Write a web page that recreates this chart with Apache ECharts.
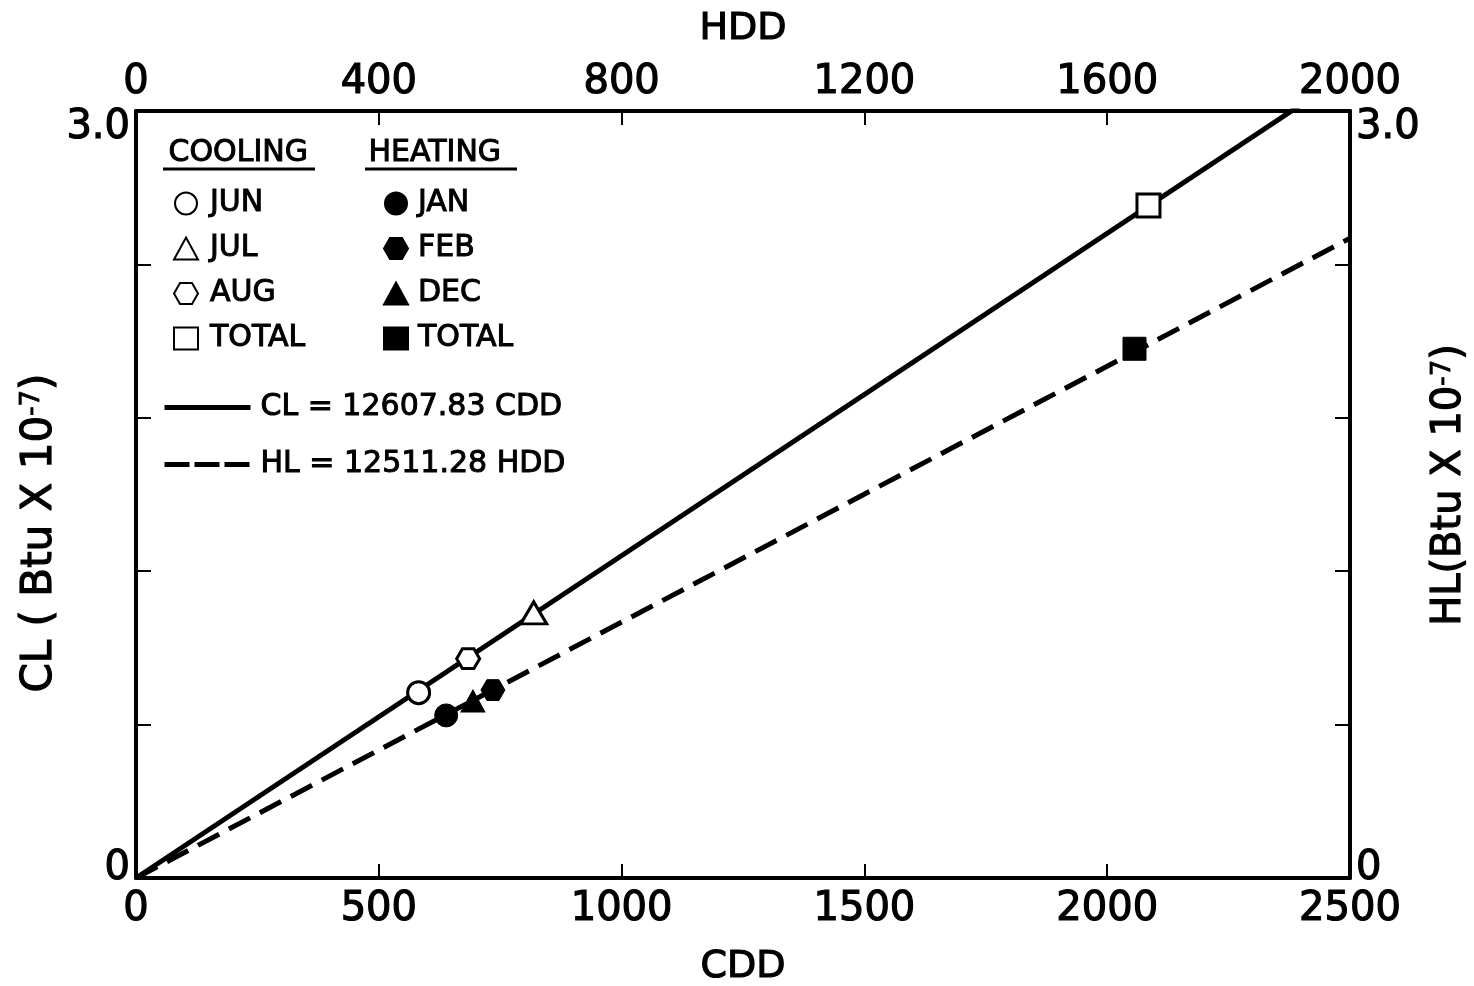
<!DOCTYPE html>
<html>
<head>
<meta charset="utf-8">
<script src="https://cdn.jsdelivr.net/npm/echarts@6/dist/echarts.min.js"></script>
<style>
  html, body { margin: 0; padding: 0; background: #fff; }
  #chart { width: 1474px; height: 986px; }
</style>
</head>
<body>
<div id="chart"></div>
<script>
// Monthly and seasonal totals: cooling load vs CDD, heating load vs HDD
const coolingMonths = ['JUN', 'JUL', 'AUG', 'TOTAL'];
const coolingCDD = [582, 819, 684, 2085];
const coolingCL = [0.725, 1.037, 0.858, 2.63];

const heatingMonths = ['JAN', 'FEB', 'DEC', 'TOTAL'];
const heatingHDD = [511, 588, 555, 1645];
const heatingHL = [0.636, 0.735, 0.692, 2.07];

// Fitted lines through the origin (load in Btu x 10^-7)
const clCoef = 12607.83;
const hlCoef = 12511.28;

// Axis ticks
const cddTicks = [0, 500, 1000, 1500, 2000, 2500];
const hddTicks = [0, 400, 800, 1200, 1600, 2000];
const loadTicks = [0, 0.6, 1.2, 1.8, 2.4, 3.0];
const loadTickLabels = ['0', '3.0'];

const FONT = 'DejaVu Sans';
const INK = '#000';
const HEX = 'path://M-1,0 L-0.5,-0.866 L0.5,-0.866 L1,0 L0.5,0.866 L-0.5,0.866 Z';

const coolingSymbols = ['circle', 'triangle', HEX, 'rect'];
const coolingSizes = [22, [26, 22], 23, 23];
const heatingSymbols = ['circle', HEX, 'triangle', 'rect'];
const heatingSizes = [23, 24, [24, 22], 23];

const last = a => a[a.length - 1];
const step = a => a[1] - a[0];

const tickFont = { color: INK, fontFamily: FONT, fontSize: 40, textBorderColor: INK, textBorderWidth: 1.2 };

function loadLabel(v) {
  if (Math.abs(v - loadTicks[0]) < 1e-9) return '{b|' + loadTickLabels[0] + '}';
  if (Math.abs(v - last(loadTicks)) < 1e-9) return '{t|' + loadTickLabels[1] + '}';
  return '';
}
const loadRich = {
  t: Object.assign({ padding: [34, 0, 0, 0] }, tickFont),
  b: Object.assign({ padding: [0, 0, 18, 0] }, tickFont)
};

function xAxisCfg(ticks, pos, name, gap) {
  return {
    type: 'value', position: pos, min: ticks[0], max: last(ticks), interval: step(ticks),
    name: name, nameLocation: 'middle', nameGap: gap, nameMoveOverlap: false,
    nameTextStyle: { color: INK, fontFamily: FONT, fontSize: 38, textBorderColor: INK, textBorderWidth: 1.2 },
    axisLine: { show: true, onZero: false, lineStyle: { color: INK, width: 4 } },
    axisTick: { show: true, inside: true, length: 14, lineStyle: { color: INK, width: 2 } },
    axisLabel: Object.assign({ margin: pos === 'top' ? 8 : 12, formatter: v => String(v) }, tickFont),
    splitLine: { show: false }
  };
}
function yAxisCfg(pos) {
  return {
    type: 'value', position: pos, min: loadTicks[0], max: last(loadTicks), interval: step(loadTicks),
    axisLine: { show: true, onZero: false, lineStyle: { color: INK, width: 4 } },
    axisTick: { show: true, inside: true, length: 15, lineStyle: { color: INK, width: 2 } },
    axisLabel: { margin: 6, formatter: loadLabel, rich: loadRich },
    splitLine: { show: false }
  };
}

const series = [];
coolingMonths.forEach((m, i) => {
  series.push({
    type: 'scatter', name: 'Cooling ' + m, xAxisIndex: 0, yAxisIndex: 0, z: 5,
    data: [[coolingCDD[i], coolingCL[i]]],
    symbol: coolingSymbols[i], symbolSize: coolingSizes[i], symbolKeepAspect: true,
    itemStyle: { color: '#fff', borderColor: INK, borderWidth: 3, opacity: 1 }
  });
});
heatingMonths.forEach((m, i) => {
  series.push({
    type: 'scatter', name: 'Heating ' + m, xAxisIndex: 1, yAxisIndex: 0, z: 5,
    data: [[heatingHDD[i], heatingHL[i]]],
    symbol: heatingSymbols[i], symbolSize: heatingSizes[i], symbolKeepAspect: true,
    itemStyle: { color: INK, borderColor: INK, borderWidth: 1, opacity: 1 }
  });
});
const clName = 'CL = ' + clCoef + ' CDD';
const hlName = 'HL = ' + hlCoef + ' HDD';
const solidStyle = { color: INK, width: 5 };
const dashStyle = { color: INK, width: 5, type: [24, 11] };
series.push({
  type: 'line', name: clName, xAxisIndex: 0, yAxisIndex: 0, z: 2, clip: true,
  symbol: 'none', showSymbol: false, silent: true, itemStyle: { color: INK },
  data: [[0, 0], [last(cddTicks), clCoef * last(cddTicks) / 1e7]],
  lineStyle: solidStyle
});
series.push({
  type: 'line', name: hlName, xAxisIndex: 1, yAxisIndex: 0, z: 2, clip: true,
  symbol: 'none', showSymbol: false, silent: true, itemStyle: { color: INK },
  data: [[0, 0], [last(hddTicks), hlCoef * last(hddTicks) / 1e7]],
  lineStyle: dashStyle
});

const legendText = { color: INK, fontFamily: FONT, fontSize: 30, lineHeight: 30, textBorderColor: INK, textBorderWidth: 1 };
const monthLegend = (names, left, pad) => ({
  orient: 'vertical', left: left, top: 188, padding: 0, itemWidth: 24, itemHeight: 22, itemGap: 14,
  selectedMode: false, data: names,
  formatter: n => n.split(' ').pop(),
  textStyle: Object.assign({ padding: [0, 0, 0, pad] }, legendText)
});

const titleRich = (size) => ({
  a: { fontFamily: FONT, fontSize: size, fill: INK, stroke: INK, lineWidth: 1.2 },
  s: { fontFamily: FONT, fontSize: 26, fill: INK, stroke: INK, lineWidth: 0.8, verticalAlign: 'top' }
});
const headStyle = { fontFamily: FONT, fontSize: 30, fill: INK, stroke: INK, lineWidth: 1 };

const chart = echarts.init(document.getElementById('chart'));
chart.setOption({
  backgroundColor: '#fff',
  animation: false,
  grid: { left: 136, right: 124, top: 111, bottom: 108, containLabel: false, outerBoundsMode: 'none' },
  xAxis: [xAxisCfg(cddTicks, 'bottom', 'CDD', 70), xAxisCfg(hddTicks, 'top', 'HDD', 63)],
  yAxis: [yAxisCfg('left'), yAxisCfg('right')],
  legend: [
    monthLegend(coolingMonths.map(m => 'Cooling ' + m), 173, 7),
    monthLegend(heatingMonths.map(m => 'Heating ' + m), 383, 5),
    {
      orient: 'vertical', left: 162, top: 392, padding: 0, itemWidth: 86, itemHeight: 14, itemGap: 26,
      selectedMode: false,
      data: [
        { name: clName, lineStyle: solidStyle },
        { name: hlName, lineStyle: { color: INK, width: 5, type: [25, 5] } }
      ],
      itemStyle: { opacity: 0 },
      textStyle: Object.assign({ padding: [0, 0, 0, 5] }, legendText)
    }
  ],
  graphic: [
    { type: 'text', left: 168, top: 138, style: Object.assign({ text: 'COOLING' }, headStyle) },
    { type: 'text', left: 368, top: 138, style: Object.assign({ text: 'HEATING' }, headStyle) },
    { type: 'line', shape: { x1: 163, y1: 169, x2: 315, y2: 169 }, style: { stroke: INK, lineWidth: 3 } },
    { type: 'line', shape: { x1: 365, y1: 169, x2: 517, y2: 169 }, style: { stroke: INK, lineWidth: 3 } },
    {
      type: 'text', x: 40, y: 533, rotation: Math.PI / 2,
      style: { text: '{a|CL ( Btu X 10}{s|-7}{a|)}', rich: titleRich(42), align: 'center', verticalAlign: 'middle', textAlign: 'center', textVerticalAlign: 'middle' }
    },
    {
      type: 'text', x: 1450, y: 485, rotation: Math.PI / 2,
      style: { text: '{a|HL(Btu X 10}{s|-7}{a|)}', rich: titleRich(40), align: 'center', verticalAlign: 'middle', textAlign: 'center', textVerticalAlign: 'middle' }
    }
  ],
  series: series
});
</script>
</body>
</html>
